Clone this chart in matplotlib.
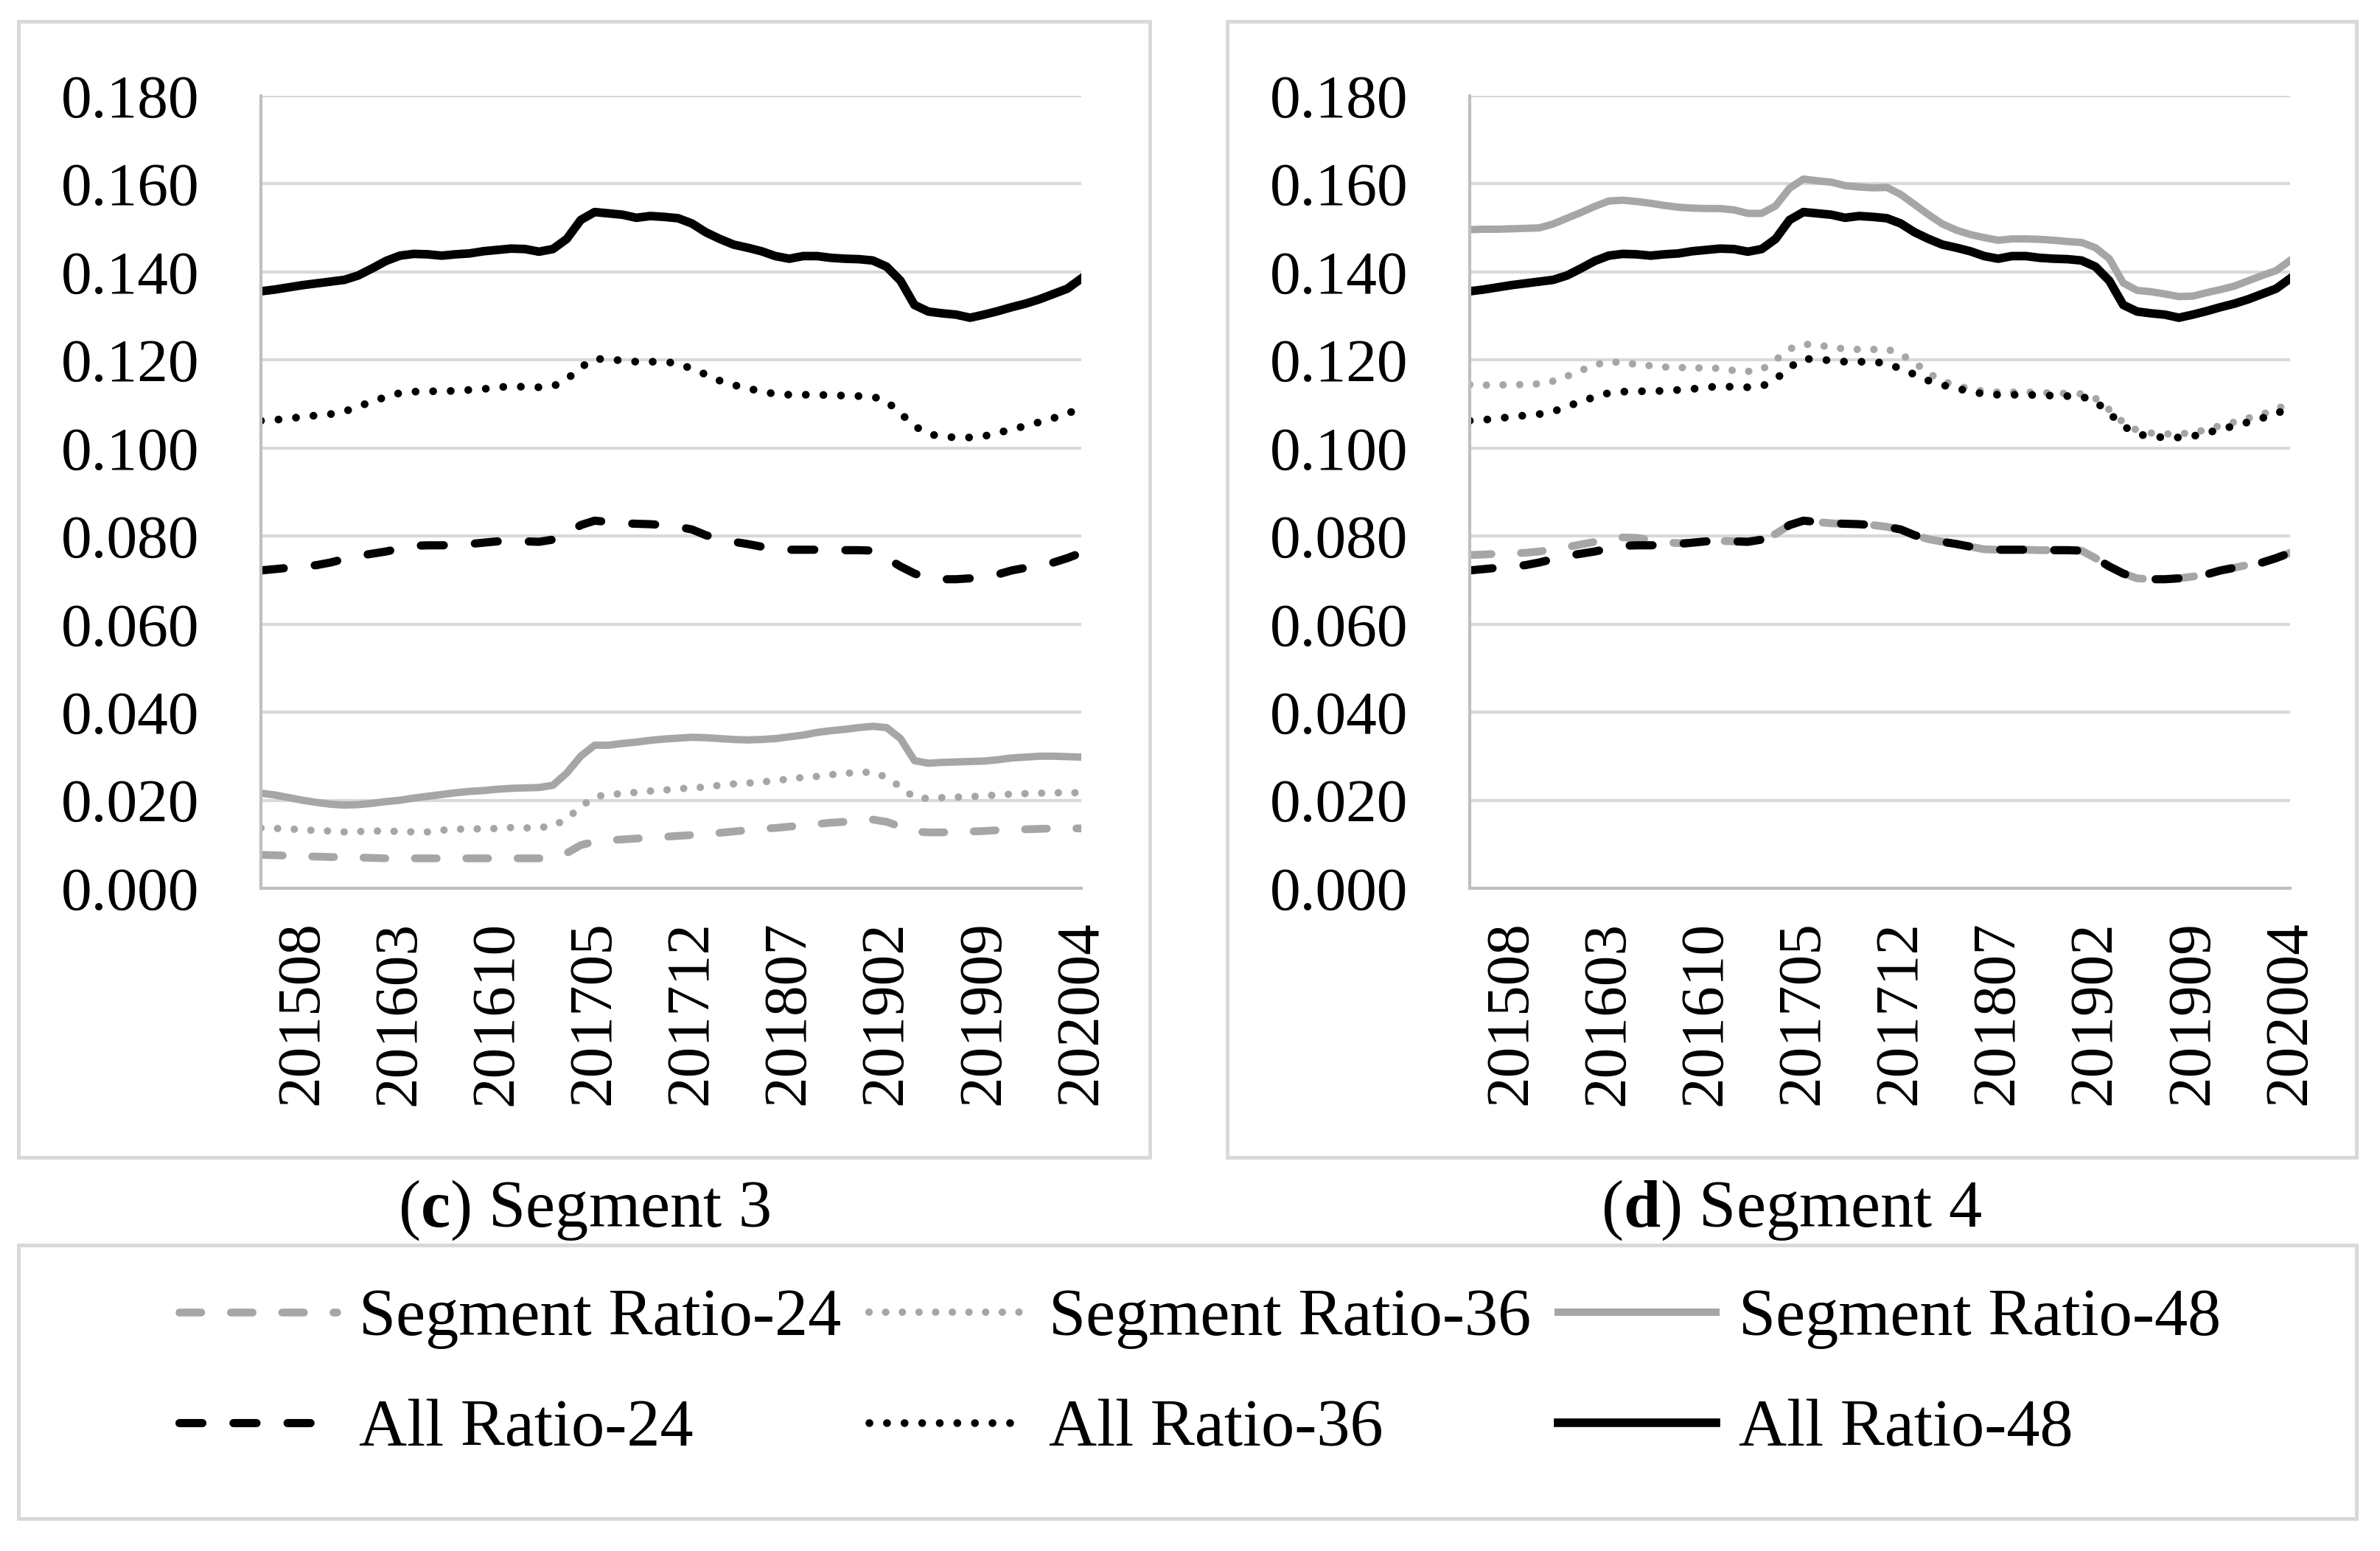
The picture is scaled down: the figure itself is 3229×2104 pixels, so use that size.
import numpy as np
import matplotlib.pyplot as plt
from matplotlib.patches import Rectangle

plt.rcParams['font.family'] = ['Liberation Serif', 'DejaVu Serif']
plt.rcParams['mathtext.fontset'] = 'custom'
plt.rcParams['mathtext.rm'] = 'Liberation Serif'
plt.rcParams['mathtext.bf'] = 'Liberation Serif:bold'

# monthly categories 201505 .. 202004
months = [f"{y}{m:02d}" for y in range(2015, 2021) for m in range(1, 13)]
months = months[months.index("201505"):months.index("202004") + 1]
tick_labels = ["201508", "201603", "201610", "201705", "201712",
               "201807", "201902", "201909", "202004"]
y_ticks = [0.0, 0.02, 0.04, 0.06, 0.08, 0.10, 0.12, 0.14, 0.16, 0.18]

all_24 = [0.0722, 0.0725, 0.0728, 0.0731, 0.0734, 0.0740, 0.0748, 0.0755, 0.0760, 0.0765,
          0.0772, 0.0778, 0.0779, 0.0779, 0.0780, 0.0782, 0.0785, 0.0788, 0.0789, 0.0788,
          0.0787, 0.0792, 0.0805, 0.0825, 0.0835, 0.0832, 0.0829, 0.0828, 0.0827, 0.0825,
          0.0821, 0.0815, 0.0802, 0.0793, 0.0787, 0.0782, 0.0776, 0.0770, 0.0769, 0.0769,
          0.0769, 0.0768, 0.0768, 0.0768, 0.0767, 0.0750, 0.0731, 0.0715, 0.0704, 0.0702,
          0.0702, 0.0704, 0.0708, 0.0713, 0.0722, 0.0728, 0.0735, 0.0740, 0.0750, 0.0762]
all_36 = [0.1062, 0.1064, 0.1067, 0.1071, 0.1074, 0.1077, 0.1083, 0.1094, 0.1106, 0.1116,
          0.1125, 0.1128, 0.1129, 0.1129, 0.1130, 0.1132, 0.1134, 0.1138, 0.1140, 0.1139,
          0.1138, 0.1140, 0.1156, 0.1183, 0.1203, 0.1201, 0.1199, 0.1196, 0.1196, 0.1196,
          0.1192, 0.1180, 0.1167, 0.1153, 0.1143, 0.1136, 0.1128, 0.1123, 0.1121, 0.1121,
          0.1121, 0.1120, 0.1119, 0.1118, 0.1117, 0.1106, 0.1079, 0.1050, 0.1032, 0.1026,
          0.1024, 0.1024, 0.1027, 0.1034, 0.1043, 0.1050, 0.1059, 0.1068, 0.1078, 0.1092]
all_48 = [0.1356, 0.1360, 0.1365, 0.1370, 0.1374, 0.1378, 0.1382, 0.1392, 0.1408, 0.1425,
          0.1437, 0.1441, 0.1440, 0.1437, 0.1440, 0.1442, 0.1447, 0.1450, 0.1453, 0.1452,
          0.1446, 0.1452, 0.1475, 0.1518, 0.1536, 0.1533, 0.1530, 0.1523, 0.1527, 0.1525,
          0.1522, 0.1510, 0.1490, 0.1475, 0.1462, 0.1455, 0.1447, 0.1436, 0.1430, 0.1436,
          0.1436, 0.1432, 0.1430, 0.1429, 0.1426, 0.1412, 0.1380, 0.1325, 0.1310, 0.1306,
          0.1303, 0.1296, 0.1303, 0.1311, 0.1320, 0.1328, 0.1338, 0.1350, 0.1362, 0.1385]

seg3_24 = [0.0076, 0.0075, 0.0074, 0.0073, 0.0072, 0.0071, 0.0071, 0.0070, 0.0069, 0.0068,
           0.0068, 0.0068, 0.0068, 0.0068, 0.0068, 0.0068, 0.0068, 0.0068, 0.0068, 0.0068,
           0.0068, 0.0070, 0.0080, 0.0098, 0.0106, 0.0109, 0.0111, 0.0113, 0.0115, 0.0117,
           0.0119, 0.0121, 0.0123, 0.0126, 0.0129, 0.0132, 0.0135, 0.0137, 0.0140, 0.0143,
           0.0146, 0.0149, 0.0151, 0.0154, 0.0156, 0.0151, 0.0140, 0.0129, 0.0127, 0.0127,
           0.0128, 0.0129, 0.0130, 0.0132, 0.0133, 0.0134, 0.0135, 0.0136, 0.0136, 0.0136]
seg3_36 = [0.0137, 0.0136, 0.0135, 0.0133, 0.0131, 0.0130, 0.0128, 0.0129, 0.0130, 0.0130,
           0.0129, 0.0128, 0.0128, 0.0132, 0.0134, 0.0135, 0.0135, 0.0136, 0.0138, 0.0137,
           0.0138, 0.0141, 0.0158, 0.0185, 0.0208, 0.0213, 0.0215, 0.0218, 0.0221, 0.0223,
           0.0226, 0.0228, 0.0230, 0.0234, 0.0237, 0.0239, 0.0241, 0.0245, 0.0248, 0.0252,
           0.0254, 0.0258, 0.0261, 0.0263, 0.0264, 0.0252, 0.0230, 0.0206, 0.0204, 0.0206,
           0.0207, 0.0208, 0.0210, 0.0212, 0.0214, 0.0215, 0.0216, 0.0217, 0.0217, 0.0217]
seg3_48 = [0.0216, 0.0212, 0.0206, 0.0200, 0.0195, 0.0191, 0.0189, 0.0190, 0.0193, 0.0197,
           0.0200, 0.0205, 0.0209, 0.0213, 0.0217, 0.0220, 0.0222, 0.0225, 0.0227, 0.0228,
           0.0229, 0.0234, 0.0262, 0.0300, 0.0325, 0.0325, 0.0329, 0.0332, 0.0336, 0.0339,
           0.0341, 0.0343, 0.0342, 0.0340, 0.0338, 0.0337, 0.0338, 0.0340, 0.0344, 0.0348,
           0.0354, 0.0358, 0.0361, 0.0365, 0.0368, 0.0365, 0.0340, 0.0290, 0.0284, 0.0286,
           0.0287, 0.0288, 0.0289, 0.0292, 0.0296, 0.0298, 0.0300, 0.0300, 0.0299, 0.0298]

seg4_24 = [0.0757, 0.0758, 0.0760, 0.0761, 0.0762, 0.0765, 0.0770, 0.0775, 0.0781, 0.0787,
           0.0793, 0.0797, 0.0796, 0.0791, 0.0786, 0.0784, 0.0785, 0.0788, 0.0789, 0.0788,
           0.0787, 0.0792, 0.0805, 0.0825, 0.0835, 0.0832, 0.0829, 0.0828, 0.0827, 0.0825,
           0.0821, 0.0815, 0.0802, 0.0793, 0.0787, 0.0782, 0.0776, 0.0770, 0.0769, 0.0769,
           0.0769, 0.0768, 0.0768, 0.0768, 0.0767, 0.0750, 0.0731, 0.0715, 0.0704, 0.0702,
           0.0702, 0.0704, 0.0708, 0.0713, 0.0722, 0.0728, 0.0735, 0.0740, 0.0750, 0.0762]
seg4_36 = [0.1144, 0.1143, 0.1143, 0.1144, 0.1144, 0.1146, 0.1152, 0.1163, 0.1176, 0.1189,
           0.1196, 0.1194, 0.1190, 0.1187, 0.1184, 0.1183, 0.1182, 0.1182, 0.1181, 0.1176,
           0.1174, 0.1178, 0.1200, 0.1225, 0.1236, 0.1234, 0.1229, 0.1225, 0.1224, 0.1224,
           0.1225, 0.1213, 0.1194, 0.1170, 0.1152, 0.1142, 0.1134, 0.1129, 0.1127, 0.1127,
           0.1127, 0.1126, 0.1125, 0.1124, 0.1123, 0.1113, 0.1087, 0.1058, 0.1040, 0.1034,
           0.1032, 0.1032, 0.1035, 0.1042, 0.1051, 0.1059, 0.1068, 0.1077, 0.1087, 0.1104]
seg4_48 = [0.1496, 0.1497, 0.1497, 0.1498, 0.1499, 0.1500, 0.1509, 0.1522, 0.1535, 0.1549,
           0.1561, 0.1563, 0.1560, 0.1556, 0.1551, 0.1547, 0.1545, 0.1544, 0.1544, 0.1541,
           0.1533, 0.1533, 0.1550, 0.1590, 0.1611, 0.1607, 0.1604, 0.1596, 0.1593, 0.1591,
           0.1592, 0.1576, 0.1553, 0.1530, 0.1509, 0.1495, 0.1485, 0.1478, 0.1472, 0.1475,
           0.1475, 0.1474, 0.1472, 0.1469, 0.1467, 0.1455, 0.1430, 0.1375, 0.1358, 0.1355,
           0.1350, 0.1344, 0.1345, 0.1353, 0.1360, 0.1368, 0.1380, 0.1392, 0.1403, 0.1426]

GRAY = '#a6a6a6'
GRID = '#d9d9d9'
FS = 30
FS_LEG = 32.5

fig = plt.figure(figsize=(16.15, 10.52), dpi=200)
W, H = 3230.0, 2104.0


def fbox(x0, y0, x1, y1):
    # pixel box (top-left origin) -> figure fraction rect
    return [x0 / W, 1 - y1 / H, (x1 - x0) / W, (y1 - y0) / H]


def frame(x0, y0, x1, y1):
    r = fbox(x0, y0, x1, y1)
    fig.patches.append(Rectangle((r[0], r[1]), r[2], r[3], transform=fig.transFigure,
                                 fill=False, edgecolor=GRID, lw=1.8, zorder=0))


frame(25, 29, 1560, 1570)
frame(1665, 29, 3197, 1570)
frame(25, 1689, 3197, 2060)

dash = (0, (2.8, 3.8))
dot = (0, (0.01, 2.25))


def draw_panel(rect, seg24, seg36, seg48, caption, cap_x):
    ax = fig.add_axes(fbox(*rect))
    x = np.arange(len(months))
    ax.plot(x, seg24, color=GRAY, lw=3.8, ls=dash, dash_capstyle='round', label='Segment Ratio-24')
    ax.plot(x, seg36, color=GRAY, lw=3.6, ls=dot, dash_capstyle='round', label='Segment Ratio-36')
    ax.plot(x, seg48, color=GRAY, lw=3.6, label='Segment Ratio-48')
    ax.plot(x, all_24, color='black', lw=4.0, ls=dash, dash_capstyle='round', label='All Ratio-24')
    ax.plot(x, all_36, color='black', lw=3.8, ls=dot, dash_capstyle='round', label='All Ratio-36')
    ax.plot(x, all_48, color='black', lw=4.2, label='All Ratio-48')
    ax.set_xlim(0, len(months) - 1)
    ax.set_ylim(0, 0.18)
    ax.set_yticks(y_ticks)
    ax.set_yticklabels([f"{v:.3f}" for v in y_ticks], fontsize=FS)
    ax.set_xticks([months.index(t) for t in tick_labels])
    ax.set_xticklabels(tick_labels, rotation=90, fontsize=FS)
    ax.tick_params(axis='both', length=0)
    ax.tick_params(axis='y', pad=30)
    ax.tick_params(axis='x', pad=16)
    ax.grid(axis='y', color=GRID, lw=1.5)
    ax.set_axisbelow(True)
    for s in ['top', 'right']:
        ax.spines[s].set_visible(False)
    for s in ['left', 'bottom']:
        ax.spines[s].set_color('#bfbfbf')
        ax.spines[s].set_linewidth(1.5)
    fig.text(cap_x / W, 1 - 1642 / H, caption, fontsize=FS_LEG, ha='center', va='center')
    return ax


ax_c = draw_panel((354, 130, 1467, 1205), seg3_24, seg3_36, seg3_48,
                  r"($\mathbf{c}$) Segment 3", 792)
ax_d = draw_panel((1994, 130, 3107, 1205), seg4_24, seg4_36, seg4_48,
                  r"($\mathbf{d}$) Segment 4", 2431)

handles, labels = ax_c.get_legend_handles_labels()
order = [0, 3, 1, 4, 2, 5]
fig.legend([handles[i] for i in order], [labels[i] for i in order],
           loc='center', bbox_to_anchor=(1628 / W, 1 - 1864 / H), ncol=3,
           frameon=False, fontsize=FS_LEG, handlelength=2.37, handletextpad=0.34,
           columnspacing=0.41, labelspacing=0.75)

fig.savefig('out.png', dpi=200)
